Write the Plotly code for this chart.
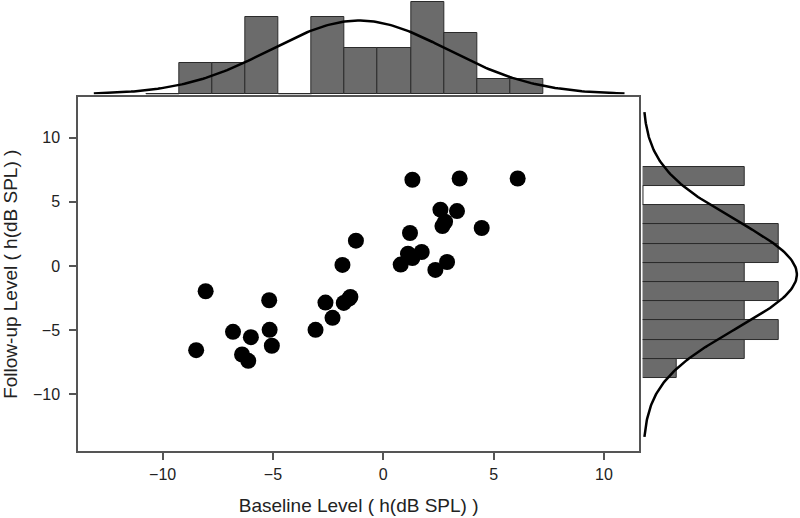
import numpy as np
import plotly.graph_objects as go

# ---- data ----
baseline = [-8.05, -8.48, -6.81, -6.00, -6.40, -6.12, -5.17, -5.15, -5.05, -3.07,
            -2.62, -2.30, -1.85, -1.79, -1.49, -1.24, -1.55,
            1.32, 3.46, 6.09, 2.59, 3.34, 2.80, 2.68, 4.46, 1.21, 1.12, 1.74,
            1.32, 0.79, 2.89, 2.36]
followup = [-1.97, -6.56, -5.13, -5.55, -6.90, -7.39, -2.67, -4.98, -6.22, -4.98,
            -2.85, -4.04, 0.08, -2.88, -2.41, 1.97, -2.55,
            6.72, 6.82, 6.82, 4.39, 4.28, 3.45, 3.11, 2.96, 2.57, 0.96, 1.09,
            0.62, 0.11, 0.31, -0.31]

X_BIN_START = -10.75
Y_BIN_START = -8.75
BIN_WIDTH = 1.5
x_hist_counts = [0, 2, 2, 5, 0, 5, 3, 3, 6, 4, 1, 1]
y_hist_counts = [1, 3, 4, 3, 4, 3, 4, 4, 3, 0, 3]

x_ticks = [-10, -5, 0, 5, 10]
y_ticks = [-10, -5, 0, 5, 10]

x_title = "Baseline Level ( h(dB SPL) )"
y_title = "Follow-up Level ( h(dB SPL) )"

# ---- styling ----
BAR_FILL = "#6b6b6b"
BAR_EDGE = "#2b2b2b"
FRAME = "#555555"
TEXT = "#222222"
FONT = "Liberation Sans, Arial, sans-serif"

xa = np.array(baseline)
ya = np.array(followup)
n = len(xa)

def normal_curve(vals, counts_scale):
    m = vals.mean()
    s = vals.std(ddof=1)
    t = np.linspace(m - 3 * s, m + 3 * s, 200)
    d = counts_scale / (s * np.sqrt(2 * np.pi)) * np.exp(-0.5 * ((t - m) / s) ** 2)
    return t, d

x_centers = [X_BIN_START + BIN_WIDTH * (i + 0.5) for i in range(len(x_hist_counts))]
y_centers = [Y_BIN_START + BIN_WIDTH * (i + 0.5) for i in range(len(y_hist_counts))]

fig = go.Figure()

# top histogram
fig.add_trace(go.Bar(x=x_centers, y=x_hist_counts, width=BIN_WIDTH,
                     xaxis="x2", yaxis="y2",
                     marker=dict(color=BAR_FILL, line=dict(color=BAR_EDGE, width=1)),
                     showlegend=False))
for c, k in zip(x_centers, x_hist_counts):
    if k == 0:
        fig.add_trace(go.Scatter(x=[c - BIN_WIDTH / 2, c + BIN_WIDTH / 2], y=[0, 0],
                                 xaxis="x2", yaxis="y2", mode="lines",
                                 line=dict(color=BAR_EDGE, width=1.5), showlegend=False))
tx, ty = normal_curve(xa, n * BIN_WIDTH)
fig.add_trace(go.Scatter(x=tx, y=ty, xaxis="x2", yaxis="y2", mode="lines",
                         line=dict(color="black", width=2.5), showlegend=False))

# right histogram
fig.add_trace(go.Bar(y=y_centers, x=y_hist_counts, width=BIN_WIDTH, orientation="h",
                     xaxis="x3", yaxis="y3",
                     marker=dict(color=BAR_FILL, line=dict(color=BAR_EDGE, width=1)),
                     showlegend=False))
for c, k in zip(y_centers, y_hist_counts):
    if k == 0:
        fig.add_trace(go.Scatter(y=[c - BIN_WIDTH / 2, c + BIN_WIDTH / 2], x=[0, 0],
                                 xaxis="x3", yaxis="y3", mode="lines",
                                 line=dict(color=BAR_EDGE, width=1.5), showlegend=False))
ry, rx = normal_curve(ya, n * BIN_WIDTH)
fig.add_trace(go.Scatter(x=rx, y=ry, xaxis="x3", yaxis="y3", mode="lines",
                         line=dict(color="black", width=2.5), showlegend=False))

# scatter
fig.add_trace(go.Scatter(x=baseline, y=followup, mode="markers",
                         marker=dict(color="black", size=16),
                         showlegend=False))

X_RANGE = [-13.82, 11.59]
Y_RANGE = [-14.46, 13.17]
X_DOM = [0.0979, 0.7988]
Y_DOM = [0.1284, 0.8127]

axis_common = dict(showline=True, mirror=True, linecolor=FRAME, linewidth=2,
                   ticks="outside", ticklen=7, tickwidth=2, tickcolor=FRAME,
                   showgrid=False, zeroline=False,
                   tickfont=dict(size=16, color=TEXT, family=FONT))

fig.update_layout(
    width=800, height=518,
    margin=dict(l=0, r=0, t=0, b=0),
    paper_bgcolor="white", plot_bgcolor="white",
    font=dict(family=FONT, color=TEXT),
    bargap=0,
    xaxis=dict(domain=X_DOM, range=X_RANGE, anchor="y", tickvals=x_ticks,
               title=dict(text=x_title, font=dict(size=19, color=TEXT), standoff=17),
               **axis_common),
    yaxis=dict(domain=Y_DOM, range=Y_RANGE, anchor="x", tickvals=y_ticks,
               ticklabelstandoff=6,
               title=dict(text=y_title, font=dict(size=19, color=TEXT), standoff=12),
               **axis_common),
    xaxis2=dict(domain=X_DOM, range=X_RANGE, anchor="y2", visible=False),
    yaxis2=dict(domain=[0.818, 1.0], range=[0, 6.11], anchor="x2", visible=False),
    xaxis3=dict(domain=[0.8034, 1.0], range=[0, 4.63], anchor="y3", visible=False),
    yaxis3=dict(domain=Y_DOM, range=Y_RANGE, anchor="x3", visible=False),
)

fig.write_html("out.html",
               config={"displayModeBar": False},
               post_script="document.body.style.margin='0';document.body.style.overflow='hidden';")
